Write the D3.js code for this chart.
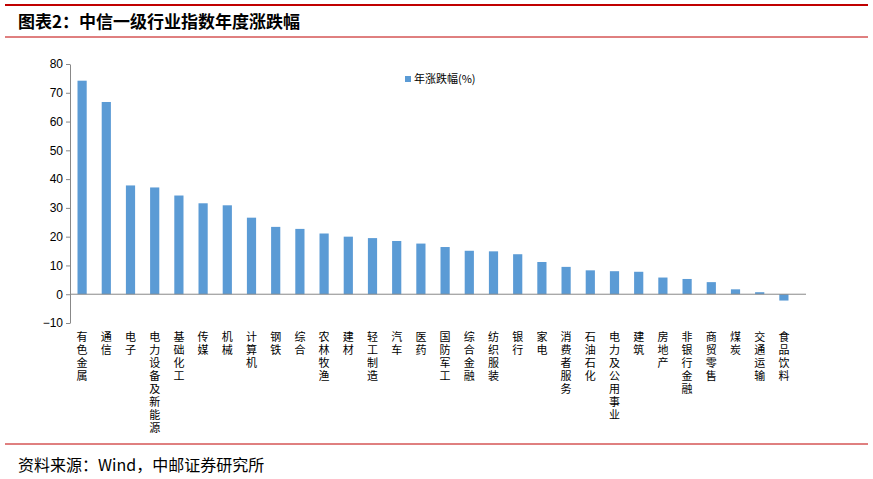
<!DOCTYPE html>
<html><head><meta charset="utf-8">
<script src="https://cdn.jsdelivr.net/npm/d3@7"></script>
<style>body{margin:0;background:#fff;font-family:"Noto Sans CJK SC",sans-serif;}</style>
</head><body>
<svg id="chart" width="873" height="479"></svg>
<script>
var categories = ["有色金属","通信","电子","电力设备及新能源","基础化工","传媒","机械","计算机","钢铁","综合",
  "农林牧渔","建材","轻工制造","汽车","医药","国防军工","综合金融","纺织服装","银行","家电",
  "消费者服务","石油石化","电力及公用事业","建筑","房地产","非银行金融","商贸零售","煤炭","交通运输","食品饮料"];
var values = [74.2,66.8,37.8,37.1,34.3,31.6,30.9,26.6,23.4,22.7,
  21.1,20.0,19.5,18.5,17.6,16.4,15.1,14.9,13.9,11.2,
  9.5,8.3,8.0,7.8,5.8,5.3,4.2,1.7,0.7,-2.2];
var yTicks = [-10,0,10,20,30,40,50,60,70,80];

var svg = d3.select("#chart");
var red = "#c00000";

// title + rules
svg.append("rect").attr("x", 5).attr("y", 4).attr("width", 863).attr("height", 2).attr("fill", red);
svg.append("text").attr("x", 18).attr("y", 28).attr("font-size", 17).attr("font-weight", "bold")
  .attr("fill", "#000").text("图表2：中信一级行业指数年度涨跌幅");
svg.append("line").attr("x1", 5).attr("x2", 868).attr("y1", 37).attr("y2", 37).attr("stroke", red).attr("stroke-width", 1);
svg.append("line").attr("x1", 5).attr("x2", 868).attr("y1", 444).attr("y2", 444).attr("stroke", red).attr("stroke-width", 1);
svg.append("text").attr("x", 18).attr("y", 471).attr("font-size", 16).attr("fill", "#000")
  .text("资料来源：Wind，中邮证券研究所");

var x = d3.scaleBand().domain(categories).range([70, 796]).paddingInner(0.62).paddingOuter(0.31);
var y = d3.scaleLinear().domain([-10, 80]).range([323, 64]);

var g = svg.append("g");
g.append("g").attr("transform", "translate(70,0)")
  .call(d3.axisLeft(y).tickValues(yTicks).tickSize(4).tickSizeOuter(0))
  .call(function(a){
    a.select(".domain").attr("stroke", "#888");
    a.selectAll(".tick line").attr("stroke", "#888");
    a.selectAll("text").attr("font-size", 12).attr("fill", "#000").attr("font-family", "Liberation Sans, Arial");
  });

g.selectAll("rect.bar").data(values).enter().append("rect")
  .attr("class", "bar")
  .attr("x", function(d, i){ return x(categories[i]); })
  .attr("width", x.bandwidth())
  .attr("y", function(d){ return y(Math.max(0, d)); })
  .attr("height", function(d){ return Math.abs(y(d) - y(0)); })
  .attr("fill", "#5b9bd5");

g.append("line").attr("x1", 70).attr("x2", 806).attr("y1", y(0)).attr("y2", y(0)).attr("stroke", "#888");

// vertical category labels
categories.forEach(function(c, i){
  var cx = x(c) + x.bandwidth() / 2;
  var t = g.append("text").attr("text-anchor", "middle").attr("font-size", 11).attr("fill", "#000");
  c.split("").forEach(function(ch, j){
    t.append("tspan").attr("x", cx).attr("y", 341 + j * 13).text(ch);
  });
});

// legend
svg.append("rect").attr("x", 405).attr("y", 76).attr("width", 6).attr("height", 6).attr("fill", "#5b9bd5");
svg.append("text").attr("x", 414).attr("y", 83).attr("font-size", 11).attr("fill", "#000").text("年涨跌幅(%)");
</script>
</body></html>
